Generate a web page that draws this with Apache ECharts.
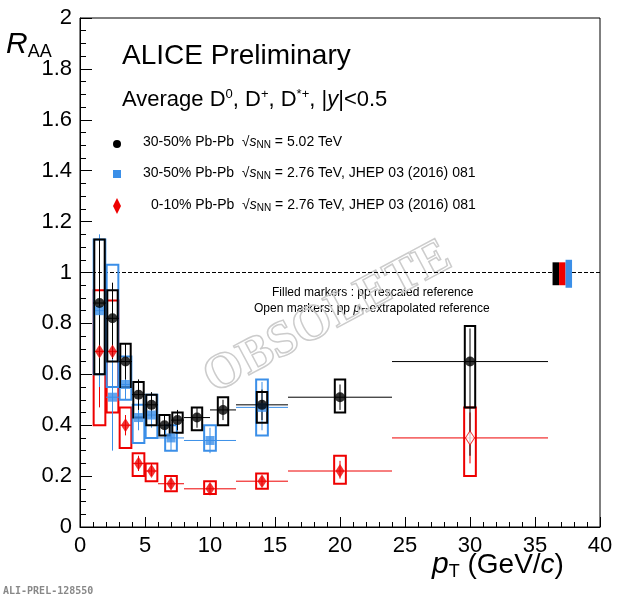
<!DOCTYPE html><html><head><meta charset="utf-8"><script src="https://cdn.jsdelivr.net/npm/echarts@6/dist/echarts.min.js"></script></head><body style="margin:0"><div id="c" style="width:620px;height:600px"></div><script>
// [x, xlo, xhi, y, statLo, statHi, sysLo, sysHi, boxHalfWidth]
const black502=[[1.5,1,2,0.88,0.60,1.13,0.60,1.13,0.4],[2.5,2,3,0.82,0.66,0.96,0.65,0.93,0.4],[3.5,3,4,0.65,0.58,0.72,0.55,0.72,0.4],[4.5,4,5,0.52,0.46,0.58,0.43,0.57,0.4],[5.5,5,6,0.48,0.43,0.53,0.40,0.52,0.4],[6.5,6,7,0.40,0.36,0.44,0.36,0.44,0.4],[7.5,7,8,0.42,0.38,0.46,0.37,0.45,0.4],[9,8,10,0.43,0.39,0.47,0.38,0.47,0.4],[11,10,12,0.46,0.42,0.50,0.40,0.51,0.4],[14,12,16,0.48,0.42,0.54,0.41,0.53,0.4],[20,16,24,0.51,0.46,0.56,0.45,0.58,0.4],[30,24,36,0.65,0.28,0.78,0.47,0.79,0.4]];
const blue276=[[1.5,1,2,0.85,0.55,1.15,0.60,1.13,0.45],[2.5,2,3,0.51,0.30,0.90,0.55,1.03,0.45],[3.5,3,4,0.56,0.50,0.65,0.50,0.67,0.45],[4.5,4,5,0.43,0.38,0.48,0.33,0.48,0.45],[5.5,5,6,0.44,0.39,0.49,0.35,0.52,0.45],[7,6,8,0.35,0.30,0.40,0.30,0.40,0.45],[10,8,12,0.34,0.29,0.39,0.30,0.40,0.45],[14,12,16,0.47,0.38,0.57,0.36,0.58,0.45]];
const red276=[[1.5,1,2,0.69,0.47,0.93,0.40,0.93,0.45],[2.5,2,3,0.69,0.42,0.88,0.45,0.89,0.45],[3.5,3,4,0.40,0.36,0.44,0.31,0.47,0.45],[4.5,4,5,0.25,0.22,0.28,0.20,0.29,0.45],[5.5,5,6,0.22,0.20,0.25,0.18,0.25,0.45],[7,6,8,0.17,0.15,0.19,0.14,0.20,0.45],[10,8,12,0.15,0.13,0.17,0.13,0.18,0.45],[14,12,16,0.18,0.16,0.20,0.15,0.21,0.45],[20,16,24,0.22,0.19,0.26,0.17,0.28,0.45],[30,24,36,0.35,0.25,0.45,0.20,0.47,0.45]];
const norm=[[36.6,0.95,1.04,'#000'],[37.1,0.95,1.04,'#e00'],[37.6,0.94,1.05,'#3b8fe8']];
const chart=echarts.init(document.getElementById('c'));
function errSeries(data,color,z){return {type:'custom',z:z,data:data,renderItem:(p,api)=>{
 const x=api.value(0),y=api.value(3),bw=api.value(8);
 const a=api.coord([api.value(1),y]),b=api.coord([api.value(2),y]);
 const s1=api.coord([x,api.value(4)]),s2=api.coord([x,api.value(5)]);
 const c1=api.coord([x-bw,api.value(7)]),c2=api.coord([x+bw,api.value(6)]);
 return {type:'group',children:[
  {type:'line',shape:{x1:a[0],y1:a[1],x2:b[0],y2:b[1]},style:{stroke:color,lineWidth:1}},
  {type:'line',shape:{x1:s1[0],y1:s1[1],x2:s2[0],y2:s2[1]},style:{stroke:color,lineWidth:1}},
  {type:'rect',shape:{x:c1[0],y:c1[1],width:c2[0]-c1[0],height:c2[1]-c1[1]},style:{stroke:color,fill:'none',lineWidth:2}}]};}};}
function pts(data,color,sym,size,z){return {type:'scatter',z:z,symbol:sym,symbolSize:size,itemStyle:{color:color},data:data.map(d=>[d[0],d[3]])};}
const redFilled=red276.slice(0,9),redOpen=red276.slice(9);
chart.setOption({animation:false,
 grid:{left:80,right:20,top:18,bottom:73},
 xAxis:{type:'value',min:0,max:40,interval:5,axisLine:{onZero:false,lineStyle:{color:'#000'}},axisTick:{inside:true,length:10,lineStyle:{color:'#000'}},minorTick:{show:true,splitNumber:5,length:5,lineStyle:{color:'#000'}},axisLabel:{color:'#000',fontSize:22,fontFamily:'Liberation Sans',margin:8},splitLine:{show:false}},
 yAxis:{type:'value',min:0,max:2,interval:0.2,axisLine:{lineStyle:{color:'#000'}},axisTick:{inside:true,length:12,lineStyle:{color:'#000'}},minorTick:{show:true,splitNumber:4,length:6,lineStyle:{color:'#000'}},axisLabel:{color:'#000',fontSize:22,fontFamily:'Liberation Sans',formatter:v=>(Math.abs(v-Math.round(v))<1e-9)?String(Math.round(v)):v.toFixed(1)},splitLine:{show:false}},
 graphic:[
  {type:'rect',shape:{x:80,y:18,width:520,height:509},style:{fill:'none',stroke:'#000',lineWidth:1},silent:true},
  {type:'text',left:122,top:42,style:{text:'ALICE Preliminary',font:'28px Liberation Sans',fill:'#000'}},
  {type:'text',left:122,top:88,style:{rich:{a:{font:'22px Liberation Sans'},s:{font:'13px Liberation Sans',verticalAlign:'top',padding:[0,0,10,0]},i:{font:'italic 22px Liberation Sans'}},text:'{a|Average D}{s|0}{a|, D}{s|+}{a|, D}{s|*+}{a|, |}{i|y}{a||<0.5}'}},
  {type:'text',left:6,top:30,style:{rich:{i:{font:'italic 30px Liberation Sans'},s:{font:'18px Liberation Sans',padding:[14,0,0,0]}},text:'{i|R}{s|AA}'}},
  {type:'text',left:432,top:550,style:{rich:{i:{font:'italic 30px Liberation Sans'},s:{font:'18px Liberation Sans',padding:[14,0,0,0]},a:{font:'28px Liberation Sans'},c:{font:'italic 28px Liberation Sans'}},text:'{i|p}{s|T}{a| (GeV/}{c|c}{a|)}'}},
  {type:'text',left:3,top:586,style:{text:'ALI-PREL-128550',font:'bold 10px DejaVu Sans Mono',fill:'#888'}},
  {type:'circle',shape:{cx:117,cy:144,r:4},style:{fill:'#000'}},
  {type:'rect',shape:{x:113,y:170,width:8,height:8},style:{fill:'#3b8fe8'}},
  {type:'polygon',shape:{points:[[117,198],[121,206],[117,214],[113,206]]},style:{fill:'#e00'}},
  {type:'text',left:143,top:135,style:{rich:{a:{font:'14px Liberation Sans'},s:{font:'italic 14px Liberation Sans'},b:{font:'10px Liberation Sans',padding:[6,0,0,0]}},text:'{a|30-50% Pb-Pb  √}{s|s}{b|NN}{a| = 5.02 TeV}'}},
  {type:'text',left:143,top:166,style:{rich:{a:{font:'14px Liberation Sans'},s:{font:'italic 14px Liberation Sans'},b:{font:'10px Liberation Sans',padding:[6,0,0,0]}},text:'{a|30-50% Pb-Pb  √}{s|s}{b|NN}{a| = 2.76 TeV, JHEP 03 (2016) 081}'}},
  {type:'text',left:151,top:198,style:{rich:{a:{font:'14px Liberation Sans'},s:{font:'italic 14px Liberation Sans'},b:{font:'10px Liberation Sans',padding:[6,0,0,0]}},text:'{a|0-10% Pb-Pb  √}{s|s}{b|NN}{a| = 2.76 TeV, JHEP 03 (2016) 081}'}},
  {type:'text',left:272,top:287,style:{text:'Filled markers : pp rescaled reference',font:'12px Liberation Sans',fill:'#000'}},
  {type:'text',left:254,top:303,style:{rich:{a:{font:'12px Liberation Sans'},i:{font:'italic 12px Liberation Sans'},s:{font:'9px Liberation Sans',padding:[5,0,0,0]}},text:'{a|Open markers: pp }{i|p}{s|T}{a|-extrapolated reference}'}},
  {type:'text',x:196,y:360,rotation:0.49,style:{text:'OBSOLETE',font:'bold 50px Liberation Serif',fill:'none',stroke:'#ccc',lineWidth:1.5}}
 ],
 series:[
  {type:'line',data:[[0,1],[40,1]],symbol:'none',lineStyle:{color:'#000',type:'dashed',width:1},z:1},
  {type:'custom',z:3,data:norm,renderItem:(p,api)=>{const c1=api.coord([api.value(0)-0.25,api.value(2)]),c2=api.coord([api.value(0)+0.25,api.value(1)]);return {type:'rect',shape:{x:c1[0],y:c1[1],width:c2[0]-c1[0],height:c2[1]-c1[1]},style:{fill:api.value(3)}};}},
  errSeries(red276,'#e00',2),errSeries(blue276,'#3b8fe8',3),errSeries(black502,'#000',4),
  pts(redFilled,'#e00','diamond',[9,14],5),
  {type:'scatter',z:5,symbol:'diamond',symbolSize:[9,14],itemStyle:{color:'#fff',borderColor:'#e00',borderWidth:1},data:redOpen.map(d=>[d[0],d[3]])},
  pts(blue276,'#3b8fe8','rect',9,6),pts(black502,'#000','circle',10,7)
 ]});
</script></body></html>
